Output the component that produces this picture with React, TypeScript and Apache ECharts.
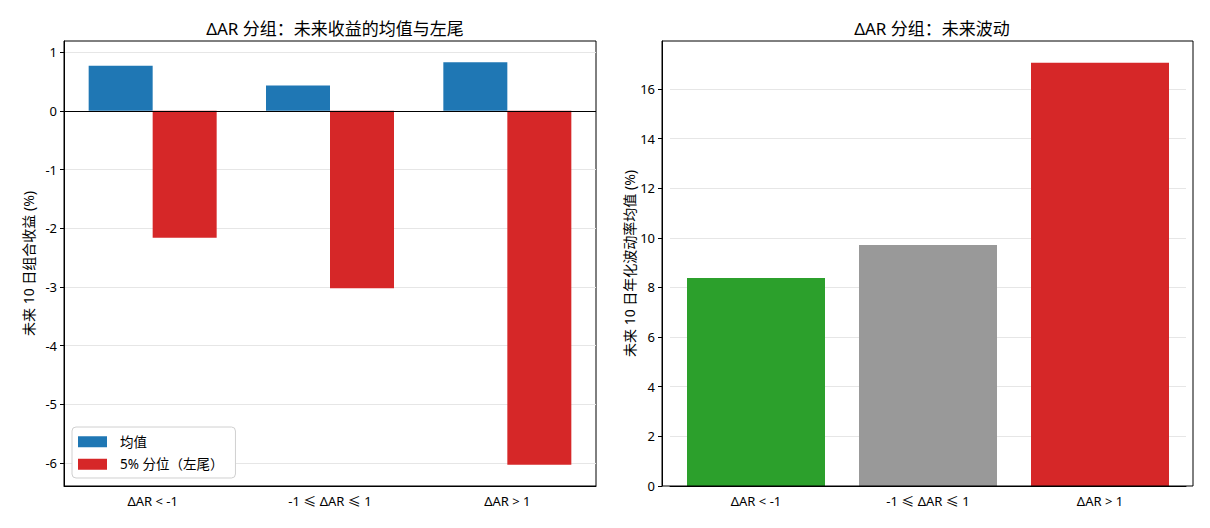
import React, { useEffect, useRef } from "react";
import * as echarts from "echarts";

const categories = ["ΔAR < -1", "-1 ≤ ΔAR ≤ 1", "ΔAR > 1"];
const meanReturn = [0.77, 0.43, 0.83];
const tailReturn = [-2.16, -3.02, -6.03];
const volatility = [8.38, 9.71, 17.05];
const volColors = ["#2ca02c", "#999999", "#d62728"];
const leftTicks = [-6, -5, -4, -3, -2, -1, 0, 1];
const rightTicks = [0, 2, 4, 6, 8, 10, 12, 14, 16];

const FONT = "'Noto Sans', 'Noto Sans CJK SC', sans-serif";

export default function App() {
  const ref = useRef<HTMLDivElement>(null);
  useEffect(() => {
    document.body.style.margin = "0";
    const chart = echarts.init(ref.current!, null, { renderer: "svg" });
    const axisLabel = { color: "#000", fontSize: 13, fontFamily: FONT };
    const option: any = {
      animation: false,
      textStyle: { fontFamily: FONT },
      title: [
        {
          text: "ΔAR 分组：未来收益的均值与左尾",
          left: 330,
          top: 15,
          textAlign: "center",
          textStyle: { fontSize: 17, fontWeight: "normal", color: "#000", fontFamily: FONT },
        },
        {
          text: "ΔAR 分组：未来波动",
          left: 927,
          top: 15,
          textAlign: "center",
          textStyle: { fontSize: 17, fontWeight: "normal", color: "#000", fontFamily: FONT },
        },
      ],
      grid: [
        { left: 64, top: 41, width: 532, height: 445, show: true, borderColor: "#000", borderWidth: 1, containLabel: false },
        { left: 670, top: 41, width: 516, height: 445, containLabel: false },
      ],
      legend: {
        left: 72,
        top: 427,
        orient: "vertical",
        data: ["均值", "5% 分位（左尾）"],
        itemWidth: 29,
        itemHeight: 11,
        itemGap: 9,
        padding: [8, 12, 7, 6],
        backgroundColor: "#fff",
        borderColor: "#d0d0d0",
        borderWidth: 1,
        borderRadius: 4,
        icon: "rect",
        textStyle: { color: "#000", fontSize: 13.5, fontFamily: FONT, padding: [0, 0, 0, 8] },
      },
      xAxis: [
        {
          type: "category",
          gridIndex: 0,
          data: categories,
          axisLine: { onZero: false, lineStyle: { color: "#000" } },
          axisTick: { alignWithLabel: true, length: 4, lineStyle: { color: "#000" } },
          axisLabel: { ...axisLabel, margin: 8 },
        },
        {
          type: "category",
          gridIndex: 1,
          data: categories,
          axisLine: { onZero: false, lineStyle: { color: "#000" } },
          axisTick: { alignWithLabel: true, length: 4, lineStyle: { color: "#000" } },
          axisLabel: { ...axisLabel, margin: 8 },
        },
      ],
      yAxis: [
        {
          type: "value",
          gridIndex: 0,
          min: -6.39,
          max: 1.19,
          splitNumber: 8,
          name: "未来 10 日组合收益 (%)",
          nameLocation: "middle",
          nameGap: 29,
          nameTextStyle: { color: "#000", fontSize: 14, fontFamily: FONT },
          axisLine: { show: true, lineStyle: { color: "#000" } },
          axisTick: { show: true, length: 4, lineStyle: { color: "#000" }, customValues: leftTicks },
          axisLabel: { ...axisLabel, margin: 7, customValues: leftTicks },
          splitLine: { show: true, lineStyle: { color: "#e6e6e6", width: 1 } },
        },
        {
          type: "value",
          gridIndex: 1,
          min: 0,
          max: 17.93,
          splitNumber: 9,
          offset: 8,
          name: "未来 10 日年化波动率均值 (%)",
          nameLocation: "middle",
          nameGap: 26,
          nameTextStyle: { color: "#000", fontSize: 14, fontFamily: FONT },
          axisLine: { show: true, lineStyle: { color: "#000" } },
          axisTick: { show: true, length: 4, lineStyle: { color: "#000" }, customValues: rightTicks },
          axisLabel: { ...axisLabel, margin: 7, customValues: rightTicks },
          splitLine: { show: true, lineStyle: { color: "#e6e6e6", width: 1 } },
        },
      ],
      graphic: [
        {
          type: "rect",
          shape: { x: 662, y: 41, width: 531, height: 445 },
          style: { fill: "none", stroke: "#000", lineWidth: 1 },
          silent: true,
          z: 100,
        },
      ],
      series: [
        {
          name: "均值",
          type: "bar",
          xAxisIndex: 0,
          yAxisIndex: 0,
          data: meanReturn,
          barWidth: 64,
          barGap: "0%",
          itemStyle: { color: "#1f77b4" },
          markLine: {
            silent: true,
            symbol: "none",
            label: { show: false },
            lineStyle: { color: "#000", width: 1, type: "solid" },
            data: [{ yAxis: 0 }],
          },
        },
        {
          name: "5% 分位（左尾）",
          type: "bar",
          xAxisIndex: 0,
          yAxisIndex: 0,
          data: tailReturn,
          barWidth: 64,
          barGap: "0%",
          itemStyle: { color: "#d62728" },
        },
        {
          name: "未来波动",
          type: "bar",
          xAxisIndex: 1,
          yAxisIndex: 1,
          data: volatility.map((v, i) => ({ value: v, itemStyle: { color: volColors[i] } })),
          barWidth: 138,
        },
      ],
    };
    chart.setOption(option);
    return () => chart.dispose();
  }, []);
  return (
    <div
      ref={ref}
      style={{ position: "absolute", left: 0, top: 0, width: 1210, height: 528, background: "#fff" }}
    />
  );
}
